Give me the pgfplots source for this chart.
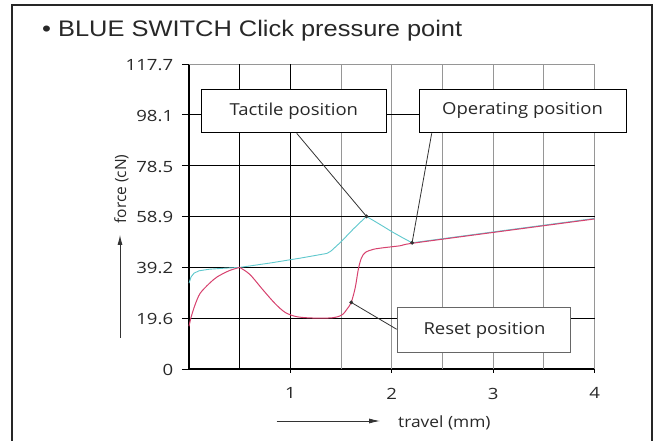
\documentclass[border=0pt]{standalone}
\usepackage{pgfplots}
\pgfplotsset{compat=1.18}
\usetikzlibrary{arrows.meta}
\usepackage{fontspec}
\setmainfont{Open Sans}
\newfontfamily\titlefont[FakeStretch=1.13]{Liberation Sans}
\newfontfamily\lblfont[FakeStretch=1.12]{Open Sans}
\newfontfamily\tickfam[FakeStretch=1.2]{Open Sans}
\newfontfamily\rotfont{Open Sans}
\definecolor{cyanline}{RGB}{95,200,205}
\definecolor{redline}{RGB}{215,65,110}
\definecolor{gridgray}{RGB}{150,150,150}
\definecolor{txt}{RGB}{40,40,40}
\begin{document}
\begin{tikzpicture}[x=1pt,y=1pt]
\useasboundingbox (0,0) rectangle (659,441);
\fill[white] (0,0) rectangle (659,441);
% outer frame
\draw[line width=1.4pt,black!85] (12,-10) -- (12,436) -- (652,436) -- (652,-10);
% title
\node[anchor=base west,inner sep=0pt,text=txt] at (42,404.5)
  {\titlefont\fontsize{22.5}{26}\selectfont • BLUE SWITCH Click pressure point};
\begin{axis}[
  at={(189pt,72pt)}, anchor=south west,
  scale only axis, width=405.6pt, height=305pt,
  xmin=0, xmax=4, ymin=0, ymax=117.7,
  clip=false,
  axis x line*=bottom, axis y line*=left,
  axis line style={line width=1.1pt,black,-},
  xtick={1,2,3,4}, xticklabels={1,2,3,4},
  ytick={0,19.6,39.2,58.9,78.5,98.1,117.7},
  yticklabels={0,19.6,39.2,58.9,78.5,98.1,117.7},
  tick align=outside,
  xtick style={line width=0.8pt,black,/pgfplots/major tick length=4pt},
  ytick style={line width=0.8pt,black,/pgfplots/major tick length=7pt},
  /pgf/number format/assume math mode=true,
  yticklabel style={font=\tickfam\fontsize{15.5}{18}\selectfont,text=txt,xshift=-8pt,yshift=-1pt},
  xticklabel style={font=\tickfam\fontsize{15.5}{18}\selectfont,text=txt,yshift=-11pt},
]
% grid
\draw[gridgray,line width=0.9pt] (axis cs:1.5,0) -- (axis cs:1.5,117.7);
\draw[gridgray,line width=0.9pt] (axis cs:2,0) -- (axis cs:2,117.7);
\draw[gridgray,line width=0.9pt] (axis cs:2.5,0) -- (axis cs:2.5,117.7);
\draw[gridgray,line width=0.9pt] (axis cs:3,0) -- (axis cs:3,117.7);
\draw[gridgray,line width=0.9pt] (axis cs:3.5,0) -- (axis cs:3.5,117.7);
\draw[gridgray,line width=0.9pt] (axis cs:4,0) -- (axis cs:4,117.7);
\draw[gridgray,line width=0.9pt] (axis cs:0,117.7) -- (axis cs:4,117.7);
\draw[black,line width=1.1pt] (axis cs:0.5,0) -- (axis cs:0.5,117.7);
\draw[black,line width=1.1pt] (axis cs:1,0) -- (axis cs:1,117.7);
\draw[black,line width=1.1pt] (axis cs:0,19.6) -- (axis cs:4,19.6);
\draw[black,line width=1.1pt] (axis cs:0,39.2) -- (axis cs:4,39.2);
\draw[black,line width=1.1pt] (axis cs:0,58.9) -- (axis cs:4,58.9);
\draw[black,line width=1.1pt] (axis cs:0,78.5) -- (axis cs:4,78.5);
\draw[black,line width=1.1pt] (axis cs:0,98.1) -- (axis cs:4,98.1);
% cyan curve
\addplot[cyanline,line width=0.9pt] coordinates {
 (0,33.1) (0.02,35.5) (0.05,37.0) (0.1,37.9) (0.2,38.5) (0.35,38.9) (0.5,39.2)
 (0.8,40.9) (1.1,42.8) (1.36,44.6) (1.4,45.5) (1.45,47.3) (1.5,49.1) (1.62,54)
 (1.75,58.9) (1.9,55.4) (2.0,53.0) (2.1,50.8) (2.2,48.7) (3.0,52.9) (4.0,58.1)};
% red curve
\addplot[redline,line width=1pt,smooth] coordinates {
 (0,16.5) (0.02,19.9) (0.06,24.8) (0.11,29.2) (0.2,33.0) (0.28,35.6) (0.4,38.0) (0.5,39.2)};
\addplot[redline,line width=1pt,smooth] coordinates {
 (0.5,39.2) (0.6,36.5) (0.73,30.5) (0.85,25.2) (0.95,21.8) (1.06,20.2) (1.2,19.7)
 (1.39,19.7) (1.47,20.2) (1.52,21.2) (1.56,23.2) (1.6,25.7) (1.64,31.5) (1.67,38.5)
 (1.7,42.8) (1.74,45.0) (1.82,46.2) (1.92,46.8) (2.09,47.6) (2.2,48.5) (3.0,52.7) (4.0,57.9)};
% points
\addplot[only marks,mark=*,mark size=1.7pt,black!80] coordinates {(1.75,58.9) (2.2,48.7) (1.6,25.7)};
\coordinate (T) at (axis cs:1.75,58.9);
\coordinate (O) at (axis cs:2.2,48.7);
\coordinate (R) at (axis cs:1.6,25.7);
\end{axis}
% boxes
\draw[black,line width=1pt,fill=white] (201,308.7) rectangle (386.7,351.7);
\node[text=txt] at (293.8,330.2) {\lblfont\fontsize{16.5}{19}\selectfont Tactile position};
\draw[black,line width=1pt,fill=white] (419,308.7) rectangle (626,351.7);
\node[text=txt] at (522.5,330.2) {\lblfont\fontsize{16.5}{19}\selectfont Operating position};
\draw[black!60,line width=1pt,fill=white] (397.7,88.7) rectangle (570,133.3);
\node[text=txt] at (484.5,111) {\lblfont\fontsize{16.5}{19}\selectfont Reset position};
% pointers
\draw[black!80,line width=0.8pt] (296.7,307.7) -- (T);
\draw[black!80,line width=0.8pt] (431.7,307.7) -- (O);
\draw[black!80,line width=0.8pt] (396.7,111.7) -- (R);
% axis labels with arrows
\draw[black!80,line width=0.8pt,-{Latex[length=10pt,width=5pt]}] (120,103) -- (120,206);
\node[rotate=90,text=txt] at (121.5,252) {\rotfont\fontsize{15.5}{18}\selectfont force (cN)};
\draw[black!80,line width=0.8pt,-{Latex[length=11pt,width=5pt]}] (276.7,20) -- (380,20);
\node[anchor=base west,inner sep=0pt,text=txt] at (398,13) {\lblfont\fontsize{15.5}{18}\selectfont travel (mm)};
\end{tikzpicture}
\end{document}
